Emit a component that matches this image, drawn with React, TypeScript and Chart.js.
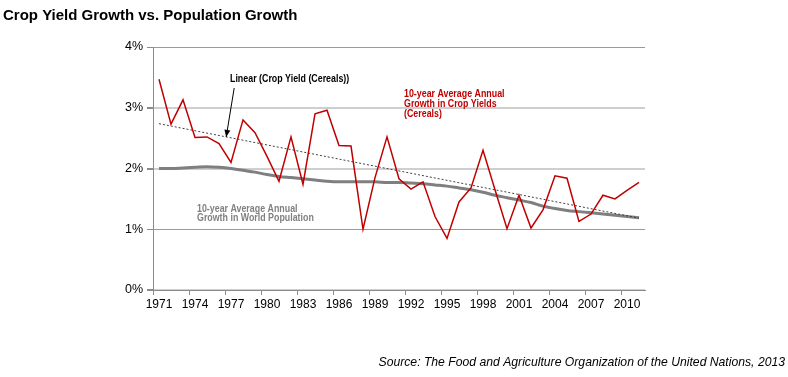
import React, { useEffect, useRef } from "react";
import { Chart, registerables } from "chart.js";

Chart.register(...registerables);

const years = [
  "1971", "1972", "1973", "1974", "1975", "1976", "1977", "1978", "1979", "1980",
  "1981", "1982", "1983", "1984", "1985", "1986", "1987", "1988", "1989", "1990",
  "1991", "1992", "1993", "1994", "1995", "1996", "1997", "1998", "1999", "2000",
  "2001", "2002", "2003", "2004", "2005", "2006", "2007", "2008", "2009", "2010", "2011",
];

const cropYieldGrowth = [
  3.47, 2.73, 3.13, 2.51, 2.52, 2.41, 2.10, 2.80, 2.59, 2.20,
  1.79, 2.52, 1.74, 2.90, 2.96, 2.38, 2.37, 1.00, 1.85, 2.52,
  1.83, 1.66, 1.78, 1.21, 0.85, 1.45, 1.68, 2.30, 1.65, 1.01,
  1.56, 1.02, 1.32, 1.88, 1.84, 1.13, 1.25, 1.56, 1.50, 1.64, 1.77,
];

const populationGrowth = [
  2.00, 2.00, 2.01, 2.02, 2.03, 2.02, 2.00, 1.97, 1.94, 1.90,
  1.87, 1.85, 1.83, 1.81, 1.79, 1.78, 1.78, 1.78, 1.78, 1.77,
  1.77, 1.76, 1.75, 1.73, 1.71, 1.68, 1.65, 1.61, 1.56, 1.52,
  1.48, 1.44, 1.38, 1.34, 1.31, 1.29, 1.27, 1.25, 1.23, 1.21, 1.19,
];

const yTickValues = [0, 1, 2, 3, 4];

const titleText = "Crop Yield Growth vs. Population Growth";
const sourceText = "Source: The Food and Agriculture Organization of the United Nations, 2013";
const trendLabel = "Linear (Crop Yield (Cereals))";
const cropLabelLines = ["10-year Average Annual", "Growth in Crop Yields", "(Cereals)"];
const popLabelLines = ["10-year Average Annual", "Growth in World Population"];

const SANS = '"Liberation Sans", Arial, Helvetica, sans-serif';

function linearTrend(vals: number[]): number[] {
  const n = vals.length;
  const mx = (n - 1) / 2;
  const my = vals.reduce((a, b) => a + b, 0) / n;
  let sxy = 0;
  let sxx = 0;
  vals.forEach((v, i) => {
    sxy += (i - mx) * (v - my);
    sxx += (i - mx) * (i - mx);
  });
  const slope = sxy / sxx;
  return vals.map((_, i) => my + slope * (i - mx));
}

function narrowText(
  ctx: CanvasRenderingContext2D,
  text: string,
  x: number,
  y: number,
  sx: number
) {
  ctx.save();
  ctx.translate(x, y);
  ctx.scale(sx, 1);
  ctx.fillText(text, 0, 0);
  ctx.restore();
}

const textPlugin = {
  id: "textPlugin",
  afterDraw(chart: any) {
    const ctx = chart.ctx as CanvasRenderingContext2D;
    const xs = chart.scales.x;
    const ys = chart.scales.y;
    ctx.save();
    ctx.textBaseline = "alphabetic";

    // Title
    ctx.fillStyle = "#000000";
    ctx.textAlign = "left";
    ctx.font = `bold 15px ${SANS}`;
    ctx.fillText(titleText, 3, 19.5);

    // Source
    ctx.font = `italic 12.2px ${SANS}`;
    ctx.textAlign = "right";
    ctx.fillStyle = "#000000";
    ctx.fillText(sourceText, 785, 366);

    // Trend label
    ctx.textAlign = "left";
    ctx.font = `bold 11.5px ${SANS}`;
    ctx.fillStyle = "#000000";
    narrowText(ctx, trendLabel, 230, 81.5, 0.77);

    // Arrow to trend line
    const trend = linearTrend(cropYieldGrowth);
    const idx = 5.6;
    const tipX = xs.getPixelForValue(idx);
    const tv = trend[0] + (trend[1] - trend[0]) * idx;
    const tipY = ys.getPixelForValue(tv);
    const startX = tipX + 8;
    const startY = 88;
    ctx.strokeStyle = "#000000";
    ctx.lineWidth = 1;
    ctx.beginPath();
    ctx.moveTo(startX, startY);
    ctx.lineTo(tipX, tipY);
    ctx.stroke();
    const ang = Math.atan2(tipY - startY, tipX - startX);
    const ah = 7;
    const aw = 3;
    ctx.beginPath();
    ctx.moveTo(tipX, tipY);
    ctx.lineTo(
      tipX - ah * Math.cos(ang) + aw * Math.sin(ang),
      tipY - ah * Math.sin(ang) - aw * Math.cos(ang)
    );
    ctx.lineTo(
      tipX - ah * Math.cos(ang) - aw * Math.sin(ang),
      tipY - ah * Math.sin(ang) + aw * Math.cos(ang)
    );
    ctx.closePath();
    ctx.fillStyle = "#000000";
    ctx.fill();

    // Crop label
    ctx.font = `bold 10px ${SANS}`;
    ctx.fillStyle = "#c00000";
    cropLabelLines.forEach((l, i) => narrowText(ctx, l, 404, 97 + i * 10, 0.885));

    // Population label
    ctx.fillStyle = "#808080";
    popLabelLines.forEach((l, i) => narrowText(ctx, l, 197, 211.5 + i * 9.7, 0.885));

    ctx.restore();
  },
};

export default function App() {
  const ref = useRef<HTMLCanvasElement | null>(null);

  useEffect(() => {
    document.body.style.margin = "0";
    if (!ref.current) return;
    const trend = linearTrend(cropYieldGrowth);
    const chart = new Chart(ref.current, {
      type: "line",
      data: {
        labels: years,
        datasets: [
          {
            label: "Crop Yield (Cereals)",
            data: cropYieldGrowth,
            borderColor: "#c00000",
            borderWidth: 1.5,
            pointRadius: 0,
            tension: 0,
            fill: false,
          },
          {
            label: "Linear (Crop Yield (Cereals))",
            data: trend,
            borderColor: "#404040",
            borderWidth: 1,
            borderDash: [2, 2],
            pointRadius: 0,
            fill: false,
          },
          {
            label: "World Population",
            data: populationGrowth,
            borderColor: "#7f7f7f",
            borderWidth: 3,
            pointRadius: 0,
            cubicInterpolationMode: "monotone",
            fill: false,
          },
        ],
      },
      options: {
        animation: false,
        responsive: false,
        events: [],
        layout: { padding: { left: 0, top: 47, right: 143, bottom: 0 } },
        plugins: {
          legend: { display: false },
          tooltip: { enabled: false },
          title: { display: false },
        },
        scales: {
          x: {
            type: "category",
            offset: true,
            afterFit: (s: any) => {
              s.height = 87;
            },
            border: { display: true, color: "#8c8c8c", width: 1 },
            grid: {
              offset: true,
              drawOnChartArea: false,
              drawTicks: true,
              tickLength: 5,
              color: "rgba(0,0,0,0)",
              tickColor: (c: any) =>
                c.index !== undefined && c.index % 3 === 0 ? "#8c8c8c" : "rgba(0,0,0,0)",
            },
            ticks: {
              autoSkip: false,
              maxRotation: 0,
              minRotation: 0,
              padding: 2,
              color: "#000000",
              font: { family: SANS, size: 12 },
              callback: (_v: any, i: number) => (i % 3 === 0 ? years[i] : ""),
            },
          },
          y: {
            min: 0,
            max: 4,
            afterFit: (s: any) => {
              s.width = 153;
            },
            afterBuildTicks: (s: any) => {
              s.ticks = yTickValues.map((v) => ({ value: v }));
            },
            border: { display: true, color: "#8c8c8c", width: 1 },
            grid: {
              drawTicks: true,
              tickLength: 6,
              tickColor: "#8c8c8c",
              color: (c: any) =>
                c.tick && (c.tick.value === 1 || c.tick.value === 4) ? "#9a9a9a" : "#cfcfcf",
              lineWidth: (c: any) =>
                c.tick && (c.tick.value === 1 || c.tick.value === 4) ? 1 : 2,
            },
            ticks: {
              padding: 4,
              color: "#000000",
              font: { family: SANS, size: 12.5 },
              callback: (v: any) => `${v}%`,
            },
          },
        },
      },
      plugins: [textPlugin],
    });
    return () => chart.destroy();
  }, []);

  return (
    <div style={{ width: 788, height: 377, position: "relative", background: "#fff" }}>
      <style>{"body{margin:0}"}</style>
      <canvas ref={ref} width={788} height={377} style={{ display: "block" }} />
    </div>
  );
}
